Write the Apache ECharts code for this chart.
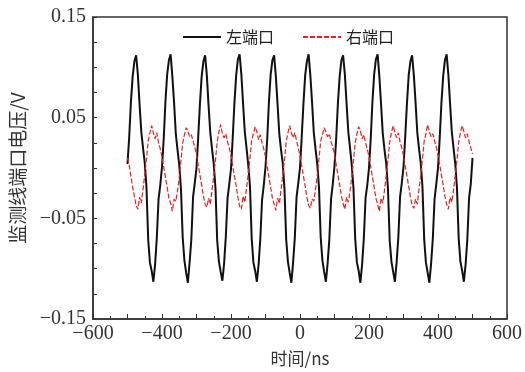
<!DOCTYPE html>
<html>
<head>
<meta charset="utf-8">
<script src="https://cdn.jsdelivr.net/npm/echarts@6/dist/echarts.min.js"></script>
<style>
  html, body { margin: 0; padding: 0; background: #fff; }
  #chart { width: 525px; height: 372px; }
</style>
</head>
<body>
<div id="chart"></div>
<script>
// 采样时刻 (ns)
var timeNs = [
  -500, -495, -490, -485, -480, -475, -470, -465, -460, -455, -450, -445, -440, -435, -430, -425, -420, -415, -410, -405,
  -400, -395, -390, -385, -380, -375, -370, -365, -360, -355, -350, -345, -340, -335, -330, -325, -320, -315, -310, -305,
  -300, -295, -290, -285, -280, -275, -270, -265, -260, -255, -250, -245, -240, -235, -230, -225, -220, -215, -210, -205,
  -200, -195, -190, -185, -180, -175, -170, -165, -160, -155, -150, -145, -140, -135, -130, -125, -120, -115, -110, -105,
  -100, -95, -90, -85, -80, -75, -70, -65, -60, -55, -50, -45, -40, -35, -30, -25, -20, -15, -10, -5,
  0, 5, 10, 15, 20, 25, 30, 35, 40, 45, 50, 55, 60, 65, 70, 75, 80, 85, 90, 95,
  100, 105, 110, 115, 120, 125, 130, 135, 140, 145, 150, 155, 160, 165, 170, 175, 180, 185, 190, 195,
  200, 205, 210, 215, 220, 225, 230, 235, 240, 245, 250, 255, 260, 265, 270, 275, 280, 285, 290, 295,
  300, 305, 310, 315, 320, 325, 330, 335, 340, 345, 350, 355, 360, 365, 370, 375, 380, 385, 390, 395,
  400, 405, 410, 415, 420, 425, 430, 435, 440, 445, 450, 455, 460, 465, 470, 475, 480, 485, 490, 495,
  500
];

// 左端口电压 (V)
var leftPort = [
  0.004, 0.031, 0.066, 0.091, 0.106,
  0.112, 0.093, 0.063, 0.036, 0.020, 0.005, -0.019, -0.071, -0.094, -0.102, -0.113, -0.096, -0.069, -0.031, -0.017, 0.001, 0.029, 0.066, 0.093, 0.107,
  0.113, 0.091, 0.065, 0.034, 0.018, 0.003, -0.021, -0.069, -0.092, -0.104, -0.114, -0.094, -0.071, -0.029, -0.015, 0.000, 0.031, 0.064, 0.091, 0.106,
  0.112, 0.092, 0.062, 0.035, 0.019, 0.004, -0.020, -0.072, -0.093, -0.103, -0.112, -0.095, -0.068, -0.030, -0.016, -0.001, 0.030, 0.065, 0.092, 0.108,
  0.113, 0.093, 0.064, 0.036, 0.020, 0.003, -0.018, -0.070, -0.094, -0.102, -0.113, -0.096, -0.070, -0.032, -0.017, 0.001, 0.029, 0.066, 0.093, 0.107,
  0.112, 0.091, 0.063, 0.034, 0.018, 0.005, -0.021, -0.071, -0.093, -0.104, -0.114, -0.094, -0.069, -0.029, -0.015, 0.000, 0.031, 0.064, 0.092, 0.106,
  0.113, 0.092, 0.065, 0.035, 0.019, 0.004, -0.019, -0.069, -0.092, -0.103, -0.113, -0.095, -0.071, -0.031, -0.016, 0.002, 0.030, 0.065, 0.091, 0.107,
  0.112, 0.093, 0.064, 0.036, 0.020, 0.003, -0.020, -0.070, -0.094, -0.102, -0.114, -0.096, -0.070, -0.030, -0.017, 0.000, 0.029, 0.066, 0.093, 0.108,
  0.113, 0.091, 0.063, 0.034, 0.018, 0.004, -0.021, -0.072, -0.093, -0.103, -0.113, -0.094, -0.069, -0.029, -0.015, 0.001, 0.031, 0.064, 0.092, 0.106,
  0.112, 0.092, 0.065, 0.035, 0.019, 0.005, -0.019, -0.071, -0.094, -0.104, -0.114, -0.095, -0.070, -0.031, -0.016, 0.000, 0.030, 0.065, 0.091, 0.107,
  0.113, 0.093, 0.064, 0.036, 0.020, 0.004, -0.020, -0.070, -0.093, -0.102, -0.113, -0.096, -0.071, -0.030, -0.016, 0.010
];

// 右端口电压 (V)
var rightPort = [
  0.010, 0.003, -0.009, -0.019, -0.028,
  -0.037, -0.041, -0.029, -0.035, -0.021, -0.007, 0.009, 0.027, 0.035, 0.042, 0.035, 0.029, 0.035, 0.025, 0.019, 0.011, 0.001, -0.009, -0.019, -0.030,
  -0.035, -0.043, -0.031, -0.033, -0.023, -0.009, 0.007, 0.025, 0.033, 0.040, 0.037, 0.031, 0.033, 0.027, 0.021, 0.013, 0.003, -0.007, -0.017, -0.028,
  -0.036, -0.039, -0.030, -0.036, -0.022, -0.008, 0.008, 0.026, 0.036, 0.043, 0.034, 0.030, 0.034, 0.026, 0.020, 0.012, 0.002, -0.008, -0.018, -0.029,
  -0.038, -0.041, -0.028, -0.034, -0.020, -0.006, 0.010, 0.028, 0.034, 0.041, 0.036, 0.028, 0.033, 0.025, 0.019, 0.011, 0.001, -0.009, -0.019, -0.030,
  -0.036, -0.042, -0.030, -0.035, -0.022, -0.007, 0.008, 0.026, 0.035, 0.042, 0.035, 0.030, 0.035, 0.027, 0.020, 0.012, 0.002, -0.008, -0.018, -0.029,
  -0.037, -0.040, -0.031, -0.033, -0.021, -0.008, 0.009, 0.027, 0.033, 0.040, 0.036, 0.031, 0.034, 0.026, 0.021, 0.013, 0.003, -0.007, -0.017, -0.028,
  -0.035, -0.041, -0.029, -0.034, -0.023, -0.009, 0.007, 0.025, 0.034, 0.041, 0.037, 0.029, 0.033, 0.025, 0.019, 0.011, 0.001, -0.009, -0.019, -0.030,
  -0.036, -0.043, -0.030, -0.035, -0.022, -0.007, 0.008, 0.026, 0.035, 0.042, 0.035, 0.030, 0.035, 0.026, 0.020, 0.012, 0.002, -0.008, -0.018, -0.029,
  -0.037, -0.040, -0.031, -0.036, -0.021, -0.008, 0.009, 0.027, 0.034, 0.043, 0.036, 0.031, 0.034, 0.027, 0.021, 0.013, 0.003, -0.007, -0.017, -0.028,
  -0.036, -0.041, -0.029, -0.034, -0.022, -0.007, 0.008, 0.026, 0.035, 0.042, 0.036, 0.030, 0.034, 0.026, 0.020, 0.014
];

var seriesNames = ['左端口', '右端口'];
// 有文字的刻度
var xLabelValues = [-600, -400, -200, 0, 200, 400, 600];
var yLabelValues = [-0.15, -0.05, 0.05, 0.15];

function pairs(ys) {
  var out = [];
  for (var i = 0; i < timeNs.length; i++) out.push([timeNs[i], ys[i]]);
  return out;
}
function minus(s) { return String(s).replace('-', '\u2212'); }

var axisColor = '#333';
var numFont = { fontFamily: 'Liberation Serif', fontSize: 20, color: '#333' };
var cjkFont = 'Noto Sans CJK SC';

var myChart = echarts.init(document.getElementById('chart'));
var option = {
  animation: false,
  backgroundColor: '#fff',
  grid: {
    left: 92, right: 18, top: 17, bottom: 49,
    show: true, borderColor: axisColor, borderWidth: 1.5
  },
  legend: {
    data: seriesNames,
    left: 177, top: 24,
    itemWidth: 38, itemHeight: 10, itemGap: 28,
    itemStyle: { opacity: 0 },
    textStyle: { fontFamily: cjkFont, fontSize: 16, color: '#222' }
  },
  xAxis: {
    type: 'value',
    min: -600, max: 600, interval: 100,
    name: '时间/ns',
    nameLocation: 'middle',
    nameGap: 31,
    nameTextStyle: { fontFamily: cjkFont, fontSize: 17, color: '#333' },
    axisLine: { onZero: false, lineStyle: { color: axisColor, width: 1.5 } },
    axisTick: { inside: true, length: 5, lineStyle: { color: axisColor } },
    minorTick: { show: true, splitNumber: 2, length: 3, lineStyle: { color: axisColor } },
    splitLine: { show: false },
    axisLabel: Object.assign({
      margin: 5,
      formatter: function (v) { return xLabelValues.indexOf(v) >= 0 ? minus(v) : ''; }
    }, numFont)
  },
  yAxis: {
    type: 'value',
    min: -0.15, max: 0.15, interval: 0.05,
    name: '监测线端口电压/V',
    nameLocation: 'middle',
    nameGap: 66,
    nameTextStyle: { fontFamily: cjkFont, fontSize: 19, color: '#333' },
    axisLine: { onZero: false, lineStyle: { color: axisColor, width: 1.5 } },
    axisTick: { inside: true, length: 4, lineStyle: { color: axisColor } },
    minorTick: { show: true, splitNumber: 2, length: 4, lineStyle: { color: axisColor } },
    splitLine: { show: false },
    axisLabel: Object.assign({
      margin: 7,
      formatter: function (v) {
        for (var i = 0; i < yLabelValues.length; i++) {
          if (Math.abs(v - yLabelValues[i]) < 1e-9) return minus(yLabelValues[i].toFixed(2));
        }
        return '';
      }
    }, numFont)
  },
  series: [
    {
      name: seriesNames[0],
      type: 'line',
      data: pairs(leftPort),
      symbol: 'none',
      lineStyle: { color: '#111', width: 2 },
      itemStyle: { color: '#111' }
    },
    {
      name: seriesNames[1],
      type: 'line',
      data: pairs(rightPort),
      symbol: 'none',
      lineStyle: { color: '#e8231f', width: 1.2, type: [5, 2] },
      itemStyle: { color: '#e8231f' }
    }
  ]
};
myChart.setOption(option);
</script>
</body>
</html>
